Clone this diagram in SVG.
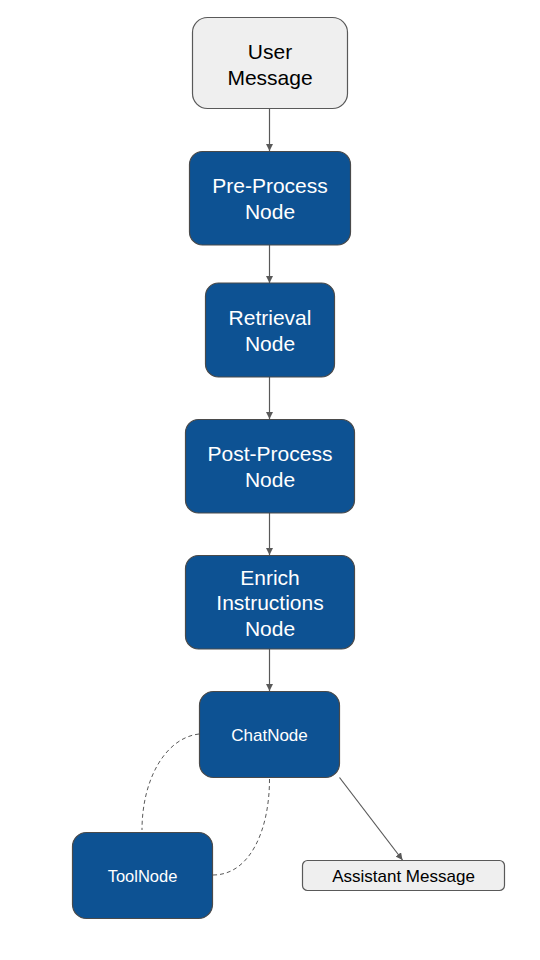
<svg xmlns="http://www.w3.org/2000/svg" width="540" height="960" viewBox="0 0 540 960">
<defs>
<marker id="ah" viewBox="0 0 10 10" refX="10" refY="5" markerWidth="7" markerHeight="7" markerUnits="userSpaceOnUse" orient="auto">
<path d="M0,0 L10,5 L0,10 z" fill="#595959"/>
</marker>
<style>
.dark rect{fill:#0d5293;stroke:#4a4a4a;stroke-width:1.2}
.light rect{fill:#efefef;stroke:#595959;stroke-width:1.2}
.dark text{fill:#ffffff}
.light text{fill:#000000}
text{font-family:"Liberation Sans",Arial,sans-serif;text-anchor:middle}
.big{font-size:21px}
.small{font-size:17px}
.edge{fill:none;stroke:#595959;stroke-width:1.2}
.dash{fill:none;stroke:#595959;stroke-width:1;stroke-dasharray:4,3}
</style>
</defs>
<rect width="540" height="960" fill="#ffffff"/>
<g id="connectors">
<line class="edge" x1="269.5" y1="109" x2="269.5" y2="151" marker-end="url(#ah)"/>
<line class="edge" x1="269.5" y1="245" x2="269.5" y2="283" marker-end="url(#ah)"/>
<line class="edge" x1="269.5" y1="377" x2="269.5" y2="419" marker-end="url(#ah)"/>
<line class="edge" x1="269.5" y1="513" x2="269.5" y2="555" marker-end="url(#ah)"/>
<line class="edge" x1="269.5" y1="649" x2="269.5" y2="691" marker-end="url(#ah)"/>
<line class="edge" x1="339.5" y1="777.5" x2="402.5" y2="860" marker-end="url(#ah)"/>
<path class="dash" d="M199,734 C165,738 142,780 142,830"/>
<path class="dash" d="M269.5,779 C269.5,830 250,875 213,875"/>
</g>
<g id="user-message" class="light">
<rect x="192.5" y="17.5" width="155" height="91" rx="15"/>
<text class="big" x="270" y="58.5">User</text>
<text class="big" x="270" y="84.5">Message</text>
</g>
<g id="pre-process" class="dark">
<rect x="189.5" y="151.5" width="161" height="93.5" rx="13"/>
<text class="big" x="270" y="193">Pre-Process</text>
<text class="big" x="270" y="218.5">Node</text>
</g>
<g id="retrieval" class="dark">
<rect x="205.5" y="283" width="129" height="94" rx="13"/>
<text class="big" x="270" y="325">Retrieval</text>
<text class="big" x="270" y="350.5">Node</text>
</g>
<g id="post-process" class="dark">
<rect x="185.5" y="419.5" width="169" height="93.5" rx="13"/>
<text class="big" x="270" y="461">Post-Process</text>
<text class="big" x="270" y="487">Node</text>
</g>
<g id="enrich" class="dark">
<rect x="185.5" y="555.5" width="169" height="93.5" rx="13"/>
<text class="big" x="270" y="584.5">Enrich</text>
<text class="big" x="270" y="610">Instructions</text>
<text class="big" x="270" y="635.5">Node</text>
</g>
<g id="chatnode" class="dark">
<rect x="199.5" y="691.5" width="140" height="86" rx="14"/>
<text class="small" x="269.5" y="740.5">ChatNode</text>
</g>
<g id="toolnode" class="dark">
<rect x="72.5" y="832.5" width="140" height="86" rx="14"/>
<text class="small" x="142.5" y="881.5" style="font-size:16.5px">ToolNode</text>
</g>
<g id="assistant-message" class="light">
<rect x="302.5" y="860.5" width="202" height="30" rx="5"/>
<text class="small" x="403.5" y="881.5">Assistant Message</text>
</g>
</svg>
